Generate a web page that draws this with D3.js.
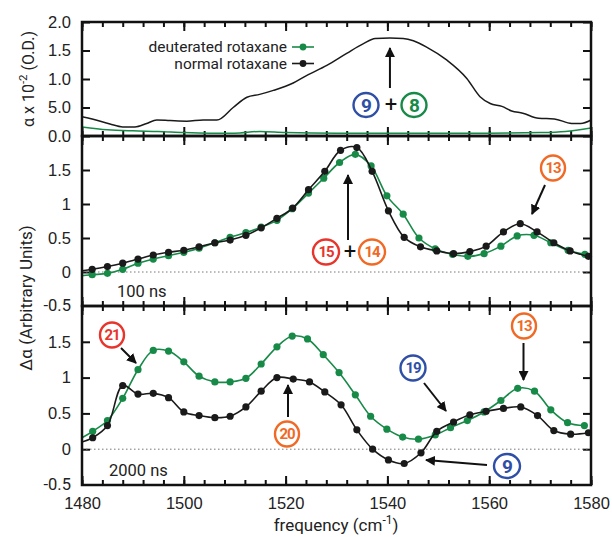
<!DOCTYPE html>
<html lang="en">
<head>
<meta charset="UTF-8">
<title>Rotaxane spectra</title>
<script src="https://d3js.org/d3.v7.min.js"></script>
<style>
  body { margin: 0; background: #fff; }
  svg { display: block; font-family: Roboto, "DejaVu Sans", sans-serif; }
  .tick text { fill: #222; }
</style>
</head>
<body>
<div class="main"></div>
<script>
// ---- data ----
// top panel: static absorption (x 10^-2 O.D.)
const topFreqBlack = [1480, 1482, 1485.5, 1488, 1490.4, 1492.7, 1494.7, 1497.3, 1500.6, 1503.8, 1506.5, 1509.7, 1512.4, 1514.9, 1517.6, 1521.5, 1524.1, 1528.1, 1532, 1535.3, 1537.6, 1540.5, 1543.1, 1545.1, 1547.7, 1551.7, 1555.6, 1558.2, 1560.2, 1562.5, 1564.4, 1566.6, 1569.7, 1572.8, 1576.2, 1578, 1580];
const topBlack = [0.34, 0.30, 0.21, 0.16, 0.16, 0.22, 0.28, 0.27, 0.26, 0.28, 0.28, 0.50, 0.68, 0.73, 0.80, 0.93, 1.06, 1.24, 1.45, 1.62, 1.71, 1.72, 1.71, 1.67, 1.56, 1.33, 1.01, 0.69, 0.57, 0.52, 0.44, 0.40, 0.31, 0.30, 0.22, 0.22, 0.28];
const topFreqGreen = [1480, 1485, 1490, 1495, 1500, 1505, 1510, 1515, 1520, 1530, 1540, 1550, 1560, 1570, 1575, 1580];
const topGreen = [0.16, 0.11, 0.09, 0.08, 0.06, 0.05, 0.05, 0.08, 0.06, 0.05, 0.05, 0.05, 0.05, 0.06, 0.08, 0.14];

// middle panel: 100 ns
const midFreqBlack = [1479, 1482.0, 1485.0, 1488.0, 1491.0, 1494.0, 1497.0, 1500.0, 1503.0, 1506.1, 1509.1, 1512.2, 1515.2, 1518.3, 1521.4, 1524.5, 1527.7, 1530.8, 1534.0, 1537.0, 1540.2, 1543.3, 1546.5, 1549.7, 1553.0, 1556.2, 1559.4, 1562.8, 1566.1, 1569.4, 1572.7, 1575.9, 1579.5];
const midBlack = [0.01, 0.04, 0.08, 0.13, 0.19, 0.25, 0.29, 0.32, 0.37, 0.43, 0.47, 0.54, 0.65, 0.79, 0.94, 1.21, 1.48, 1.79, 1.83, 1.48, 0.90, 0.51, 0.37, 0.31, 0.27, 0.30, 0.38, 0.59, 0.71, 0.59, 0.43, 0.31, 0.23];
const midFreqGreen = [1479, 1482.0, 1485.0, 1488.0, 1491.0, 1494.0, 1497.0, 1500.0, 1503.0, 1506.1, 1509.1, 1512.2, 1515.2, 1518.3, 1521.3, 1524.5, 1527.5, 1530.6, 1533.7, 1536.8, 1539.9, 1543.1, 1546.2, 1549.4, 1552.8, 1555.8, 1559.0, 1562.3, 1565.5, 1568.8, 1572.1, 1575.5, 1578.8];
const midGreen = [-0.06, -0.04, -0.02, 0.04, 0.13, 0.19, 0.24, 0.29, 0.35, 0.43, 0.51, 0.58, 0.66, 0.76, 0.93, 1.16, 1.38, 1.61, 1.73, 1.56, 1.12, 0.85, 0.50, 0.34, 0.26, 0.23, 0.27, 0.38, 0.53, 0.54, 0.43, 0.32, 0.26];

// bottom panel: 2000 ns
const botFreqBlack = [1479, 1482.1, 1485.0, 1488.0, 1491.0, 1494.0, 1497.0, 1500.0, 1503.0, 1506.1, 1509.1, 1512.2, 1515.2, 1518.3, 1521.5, 1524.7, 1527.7, 1530.9, 1534.0, 1537.1, 1540.2, 1543.3, 1546.6, 1549.7, 1553.0, 1556.2, 1559.4, 1562.8, 1566.2, 1569.5, 1572.7, 1576.0, 1579.5];
const botBlack = [0.08, 0.16, 0.33, 0.89, 0.77, 0.78, 0.72, 0.52, 0.47, 0.44, 0.46, 0.59, 0.81, 1.00, 0.98, 0.94, 0.80, 0.62, 0.27, 0.00, -0.15, -0.20, -0.05, 0.25, 0.38, 0.48, 0.53, 0.57, 0.59, 0.47, 0.26, 0.21, 0.23];
const botFreqGreen = [1479, 1482.1, 1485.0, 1488.0, 1491.0, 1494.0, 1497.0, 1500.0, 1503.0, 1506.1, 1509.1, 1512.2, 1515.2, 1518.3, 1521.3, 1524.3, 1527.4, 1530.5, 1533.7, 1536.7, 1539.9, 1543.0, 1546.1, 1549.4, 1552.4, 1555.7, 1559.0, 1562.3, 1565.6, 1568.9, 1572.1, 1575.4, 1578.7];
const botGreen = [0.12, 0.25, 0.40, 0.71, 1.11, 1.38, 1.37, 1.22, 1.02, 0.94, 0.94, 0.99, 1.19, 1.43, 1.58, 1.54, 1.32, 1.07, 0.76, 0.46, 0.28, 0.17, 0.14, 0.20, 0.30, 0.40, 0.52, 0.68, 0.85, 0.81, 0.55, 0.37, 0.33];

// tick labels
const xTickValues = [1480, 1500, 1520, 1540, 1560, 1580];
const topTickValues = [2.0, 1.5, 1.0, 0.5, 0.0];
const topTickLabels = ["2.0", "1.5", "1.0", "5.0", "0.0"];
const lowTickValues = [1.5, 1, 0.5, 0, -0.5];
const lowTickLabels = ["1.5", "1", "0.5", "0", "-0.5"];
const seriesNames = ["deuterated rotaxane", "normal rotaxane"];

const GREEN = "#178a48", BLACK = "#1a1a1a";
const BLUE = "#2f4fa6", RED = "#e8352c", ORANGE = "#f06a25";

let width = 612, height = 537;
let svg = d3.select(".main").append("svg").attr("width", width).attr("height", height);
svg.append("rect").attr("width", width).attr("height", height).attr("fill", "#fff");

let defs = svg.append("defs");
defs.append("marker").attr("id", "ah").attr("viewBox", "0 0 10 10").attr("refX", 9).attr("refY", 5)
  .attr("markerWidth", 10).attr("markerHeight", 10).attr("markerUnits", "userSpaceOnUse").attr("orient", "auto")
  .append("path").attr("d", "M0,0 L10,5 L0,10 Z").attr("fill", "#111");

let x = d3.scaleLinear().domain([1480, 1580]).range([82, 591]);

let panels = [
  { name: "top", y: d3.scaleLinear().domain([0, 2]).range([136, 22]) },
  { name: "mid", y: d3.scaleLinear().domain([-0.5, 2]).range([306, 136]) },
  { name: "bot", y: d3.scaleLinear().domain([-0.5, 2]).range([485, 306]) }
];

function drawFrameAxes(p, yVals, yLabels, showLabels, showX) {
  let y = p.y;
  let [y0, y1] = y.range();
  defs.append("clipPath").attr("id", "clip-" + p.name).append("rect")
    .attr("x", x.range()[0]).attr("y", y1).attr("width", x.range()[1] - x.range()[0]).attr("height", y0 - y1);

  let minor = d3.range(1480, 1581, 4);
  let major = [1480, 1500, 1520, 1540, 1560, 1580];
  // minor x ticks, bottom and top, inward
  svg.append("g").attr("transform", `translate(0,${y0})`)
    .call(d3.axisBottom(x).tickValues(minor).tickSize(-5).tickFormat(""))
    .call(g => g.select(".domain").remove());
  svg.append("g").attr("transform", `translate(0,${y1})`)
    .call(d3.axisTop(x).tickValues(minor).tickSize(-5).tickFormat(""))
    .call(g => g.select(".domain").remove());
  svg.append("g").attr("transform", `translate(0,${y0})`)
    .call(d3.axisBottom(x).tickValues(major).tickSize(-9).tickFormat(""))
    .call(g => g.select(".domain").remove());
  svg.append("g").attr("transform", `translate(0,${y1})`)
    .call(d3.axisTop(x).tickValues(major).tickSize(-9).tickFormat(""))
    .call(g => g.select(".domain").remove());

  // y ticks left and right
  let left = svg.append("g").attr("transform", `translate(${x.range()[0]},0)`)
    .call(d3.axisLeft(y).tickValues(yVals).tickSize(-8).tickPadding(11)
      .tickFormat((d, i) => showLabels ? yLabels[i] : ""));
  left.select(".domain").remove();
  left.selectAll("text").style("font-size", "16.5px");
  svg.append("g").attr("transform", `translate(${x.range()[1]},0)`)
    .call(d3.axisRight(y).tickValues(yVals).tickSize(-8).tickFormat(""))
    .call(g => g.select(".domain").remove());

  svg.selectAll(".tick line").attr("stroke", "#111").attr("stroke-width", 2);

  if (showX) {
    let g = svg.append("g").attr("transform", `translate(0,${y0})`)
      .call(d3.axisBottom(x).tickValues(xTickValues).tickSize(0).tickPadding(12).tickFormat(d3.format("d")));
    g.select(".domain").remove();
    g.selectAll("text").style("font-size", "16.5px");
  }
}

drawFrameAxes(panels[0], topTickValues, topTickLabels, true, false);
drawFrameAxes(panels[1], lowTickValues.slice(0, 4), lowTickLabels, true, false);
drawFrameAxes(panels[2], lowTickValues.slice(0, 4), lowTickLabels, true, true);
// -0.5 labels at panel boundaries
[panels[1], panels[2]].forEach(p => {
  svg.append("text").attr("x", x.range()[0] - 11).attr("y", p.y(-0.5)).attr("dy", "0.32em")
    .attr("text-anchor", "end").style("font-size", "16.5px").attr("fill", "#222").text(lowTickLabels[4]);
});

// zero dotted lines
[panels[1], panels[2]].forEach(p => {
  svg.append("line").attr("x1", x.range()[0]).attr("x2", x.range()[1])
    .attr("y1", p.y(0)).attr("y2", p.y(0))
    .attr("stroke", "#777").attr("stroke-width", 1).attr("stroke-dasharray", "1.5,2.5");
});

function series(p, fx, fy, color, dots, curve) {
  let data = fx.map((f, i) => [f, fy[i]]);
  let g = svg.append("g").attr("clip-path", `url(#clip-${p.name})`);
  g.append("path").datum(data)
    .attr("d", d3.line().x(d => x(d[0])).y(d => p.y(d[1])).curve(curve))
    .attr("fill", "none").attr("stroke", color).attr("stroke-width", dots ? 1.6 : 1.5);
  if (dots) {
    svg.append("g").selectAll("circle").data(data.filter(d => d[0] >= 1480 && d[0] <= 1580)).join("circle")
      .attr("cx", d => x(d[0])).attr("cy", d => p.y(d[1])).attr("r", 3.6).attr("fill", color);
  }
}

series(panels[0], topFreqGreen, topGreen, GREEN, false, d3.curveMonotoneX);
series(panels[0], topFreqBlack, topBlack, BLACK, false, d3.curveMonotoneX);
series(panels[1], midFreqGreen, midGreen, GREEN, true, d3.curveCatmullRom);
series(panels[1], midFreqBlack, midBlack, BLACK, true, d3.curveCatmullRom);
series(panels[2], botFreqGreen, botGreen, GREEN, true, d3.curveCatmullRom);
series(panels[2], botFreqBlack, botBlack, BLACK, true, d3.curveCatmullRom);

// frames
panels.forEach(p => {
  let [y0, y1] = p.y.range();
  svg.append("rect").attr("x", x.range()[0]).attr("y", y1).attr("width", x.range()[1] - x.range()[0]).attr("height", y0 - y1)
    .attr("fill", "none").attr("stroke", "#111").attr("stroke-width", 2.5);
});

// legend
[[seriesNames[0], GREEN, 47], [seriesNames[1], BLACK, 63.5]].forEach(([name, c, ly]) => {
  svg.append("text").attr("x", 287).attr("y", ly).attr("dy", "0.35em").attr("text-anchor", "end")
    .style("font-size", "15.5px").attr("fill", "#222").text(name);
  svg.append("line").attr("x1", 292).attr("x2", 314).attr("y1", ly).attr("y2", ly).attr("stroke", c).attr("stroke-width", 1.6);
  svg.append("circle").attr("cx", 303).attr("cy", ly).attr("r", 3.4).attr("fill", c);
});

// panel labels
svg.append("text").attr("x", 117).attr("y", 297).style("font-size", "16.5px").attr("fill", "#222").text("100 ns");
svg.append("text").attr("x", 109).attr("y", 476).style("font-size", "16.5px").attr("fill", "#222").text("2000 ns");

// axis titles
svg.append("text").attr("x", 336).attr("y", 531).attr("text-anchor", "middle").style("font-size", "17px").attr("fill", "#222")
  .html('frequency (cm<tspan dy="-7" font-size="12px">-1</tspan><tspan dy="7">)</tspan>');
svg.append("text").attr("transform", "translate(34,79) rotate(-90)").attr("text-anchor", "middle").style("font-size", "16px").attr("fill", "#222")
  .html('α x 10<tspan dy="-7" font-size="11.5px">-2</tspan><tspan dy="7"> (O.D.)</tspan>');
svg.append("text").attr("transform", "translate(32,298) rotate(-90)").attr("text-anchor", "middle").style("font-size", "17px").attr("fill", "#222")
  .text("Δα  (Arbitrary Units)");

// annotations
function arrow(x1, y1, x2, y2) {
  svg.append("line").attr("x1", x1).attr("y1", y1).attr("x2", x2).attr("y2", y2)
    .attr("stroke", "#111").attr("stroke-width", 2).attr("marker-end", "url(#ah)");
}
function badge(cx, cy, label, color, rx, ry, fs) {
  svg.append("ellipse").attr("cx", cx).attr("cy", cy).attr("rx", rx || 12).attr("ry", ry || 12)
    .attr("fill", "#fff").attr("stroke", color).attr("stroke-width", 2.4);
  svg.append("text").attr("x", cx).attr("y", cy).attr("dy", "0.36em").attr("text-anchor", "middle")
    .style("font-size", (fs || 15) + "px").style("font-weight", "bold").style("letter-spacing", "-1px")
    .attr("fill", color).text(label);
}
function plus(cx, cy) {
  svg.append("text").attr("x", cx).attr("y", cy).attr("dy", "0.35em").attr("text-anchor", "middle")
    .style("font-size", "22px").attr("fill", "#111").text("+");
}

// top
arrow(x(1540.5), 88, x(1540.5), 48);
badge(366, 105, "9", BLUE, 12.5, 12, 19);
plus(391, 104);
badge(414, 105, "8", GREEN, 12.5, 12, 19);
// middle
arrow(348, 240, 348, 175);
badge(326, 252, "15", RED, 13, 12.5);
plus(350, 251);
badge(372, 252, "14", ORANGE, 13, 12.5);
badge(553, 168, "13", ORANGE, 12, 12.5);
arrow(545, 185, 532, 214);
// bottom
badge(112, 335, "21", RED, 12, 12.5);
arrow(121, 348, 136, 363);
badge(287, 434, "20", ORANGE, 12, 12.5);
arrow(288, 417, 288, 385);
badge(413, 368, "19", BLUE, 12.5, 12.5);
arrow(424, 383, 446, 411);
badge(524, 326, "13", ORANGE, 12, 12.5);
arrow(523.5, 343, 523.5, 380);
badge(507, 466, "9", BLUE, 13, 12, 19);
arrow(487, 465, 426, 460);
</script>
</body>
</html>
